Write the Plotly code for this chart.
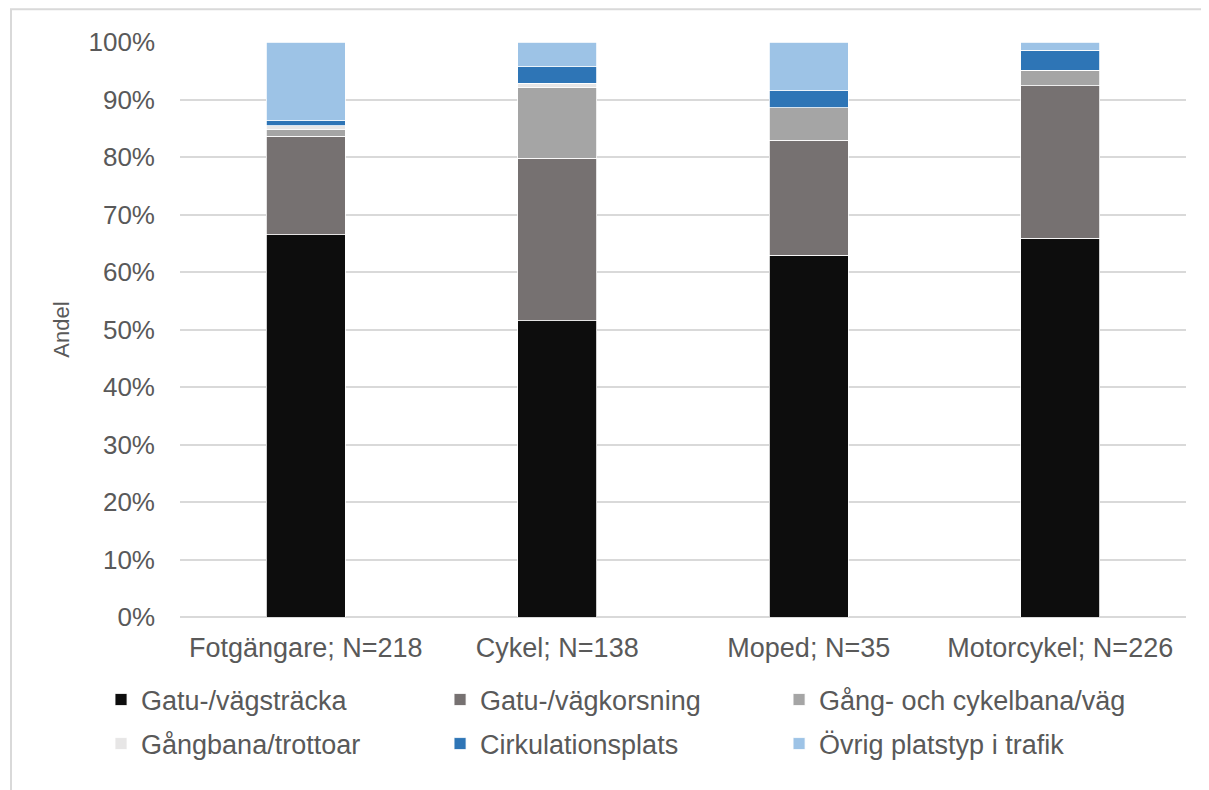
import plotly.graph_objects as go

categories = ["Fotgängare; N=218", "Cykel; N=138", "Moped; N=35", "Motorcykel; N=226"]

series_names = [
    "Gatu-/vägsträcka",
    "Gatu-/vägkorsning",
    "Gång- och cykelbana/väg",
    "Gångbana/trottoar",
    "Cirkulationsplats",
    "Övrig platstyp i trafik",
]

gatu_vagstracka = [66.5, 51.5, 62.9, 65.9]
gatu_vagkorsning = [17.1, 28.3, 20.0, 26.5]
gang_cykelbana = [1.1, 12.3, 5.7, 2.7]
gangbana_trottoar = [0.7, 0.7, 0.0, 0.0]
cirkulationsplats = [0.9, 2.9, 2.9, 3.5]
ovrig_platstyp = [13.7, 4.3, 8.5, 1.4]

series_values = [gatu_vagstracka, gatu_vagkorsning, gang_cykelbana,
                 gangbana_trottoar, cirkulationsplats, ovrig_platstyp]

colors = ["#0d0d0d", "#767171", "#a5a5a5", "#e7e6e6", "#2e75b6", "#9dc3e6"]

tick_vals = [0, 10, 20, 30, 40, 50, 60, 70, 80, 90, 100]
tick_text = ["0%", "10%", "20%", "30%", "40%", "50%", "60%", "70%", "80%", "90%", "100%"]

FONT = "Liberation Sans, Arial, sans-serif"
TXT = "#595959"

legend_ids = ["legend", "legend2", "legend3", "legend4", "legend5", "legend6"]
legend_x = [-0.0785, 0.2585, 0.5955]
legend_y = [-0.1443, -0.2209]

fig = go.Figure()
for i, (name, vals, col) in enumerate(zip(series_names, series_values, colors)):
    fig.add_trace(go.Bar(
        x=categories, y=vals, name=name,
        marker=dict(color=col, line=dict(color="white", width=0.8)),
        legend=legend_ids[i],
    ))

legend_layout = {}
for i, lid in enumerate(legend_ids):
    legend_layout[lid] = dict(
        orientation="h", xanchor="left", yanchor="middle",
        x=legend_x[i % 3], y=legend_y[i // 3],
        font=dict(family=FONT, size=27, color=TXT),
        itemclick=False, bgcolor="rgba(0,0,0,0)",
    )

fig.update_layout(
    barmode="stack",
    bargap=0.687,
    width=1201, height=782,
    margin=dict(l=172, r=23, t=34, b=173),
    paper_bgcolor="white", plot_bgcolor="white",
    font=dict(family=FONT, color=TXT, size=26),
    showlegend=True,
    xaxis=dict(
        showgrid=False, showline=False, zeroline=False,
        tickfont=dict(family=FONT, size=27, color=TXT),
        ticks="", ticklabelstandoff=12,
    ),
    yaxis=dict(
        range=[0, 100], tickmode="array", tickvals=tick_vals, ticktext=tick_text,
        showgrid=True, gridcolor="#d9d9d9", gridwidth=1.5,
        zeroline=True, zerolinecolor="#d9d9d9", zerolinewidth=1.5,
        showline=False, ticks="", ticklabelstandoff=24,
        tickfont=dict(family=FONT, size=26, color=TXT),
        title=dict(text="Andel", standoff=12,
                   font=dict(family=FONT, size=22, color=TXT)),
        automargin=False,
    ),
    shapes=[dict(type="rect", xref="paper", yref="paper",
                 x0=-0.168, x1=1.04, y0=-0.33, y1=1.057,
                 line=dict(color="#d9d9d9", width=2), fillcolor="rgba(0,0,0,0)",
                 layer="below")],
    **legend_layout,
)

fig.write_html("out.html")
